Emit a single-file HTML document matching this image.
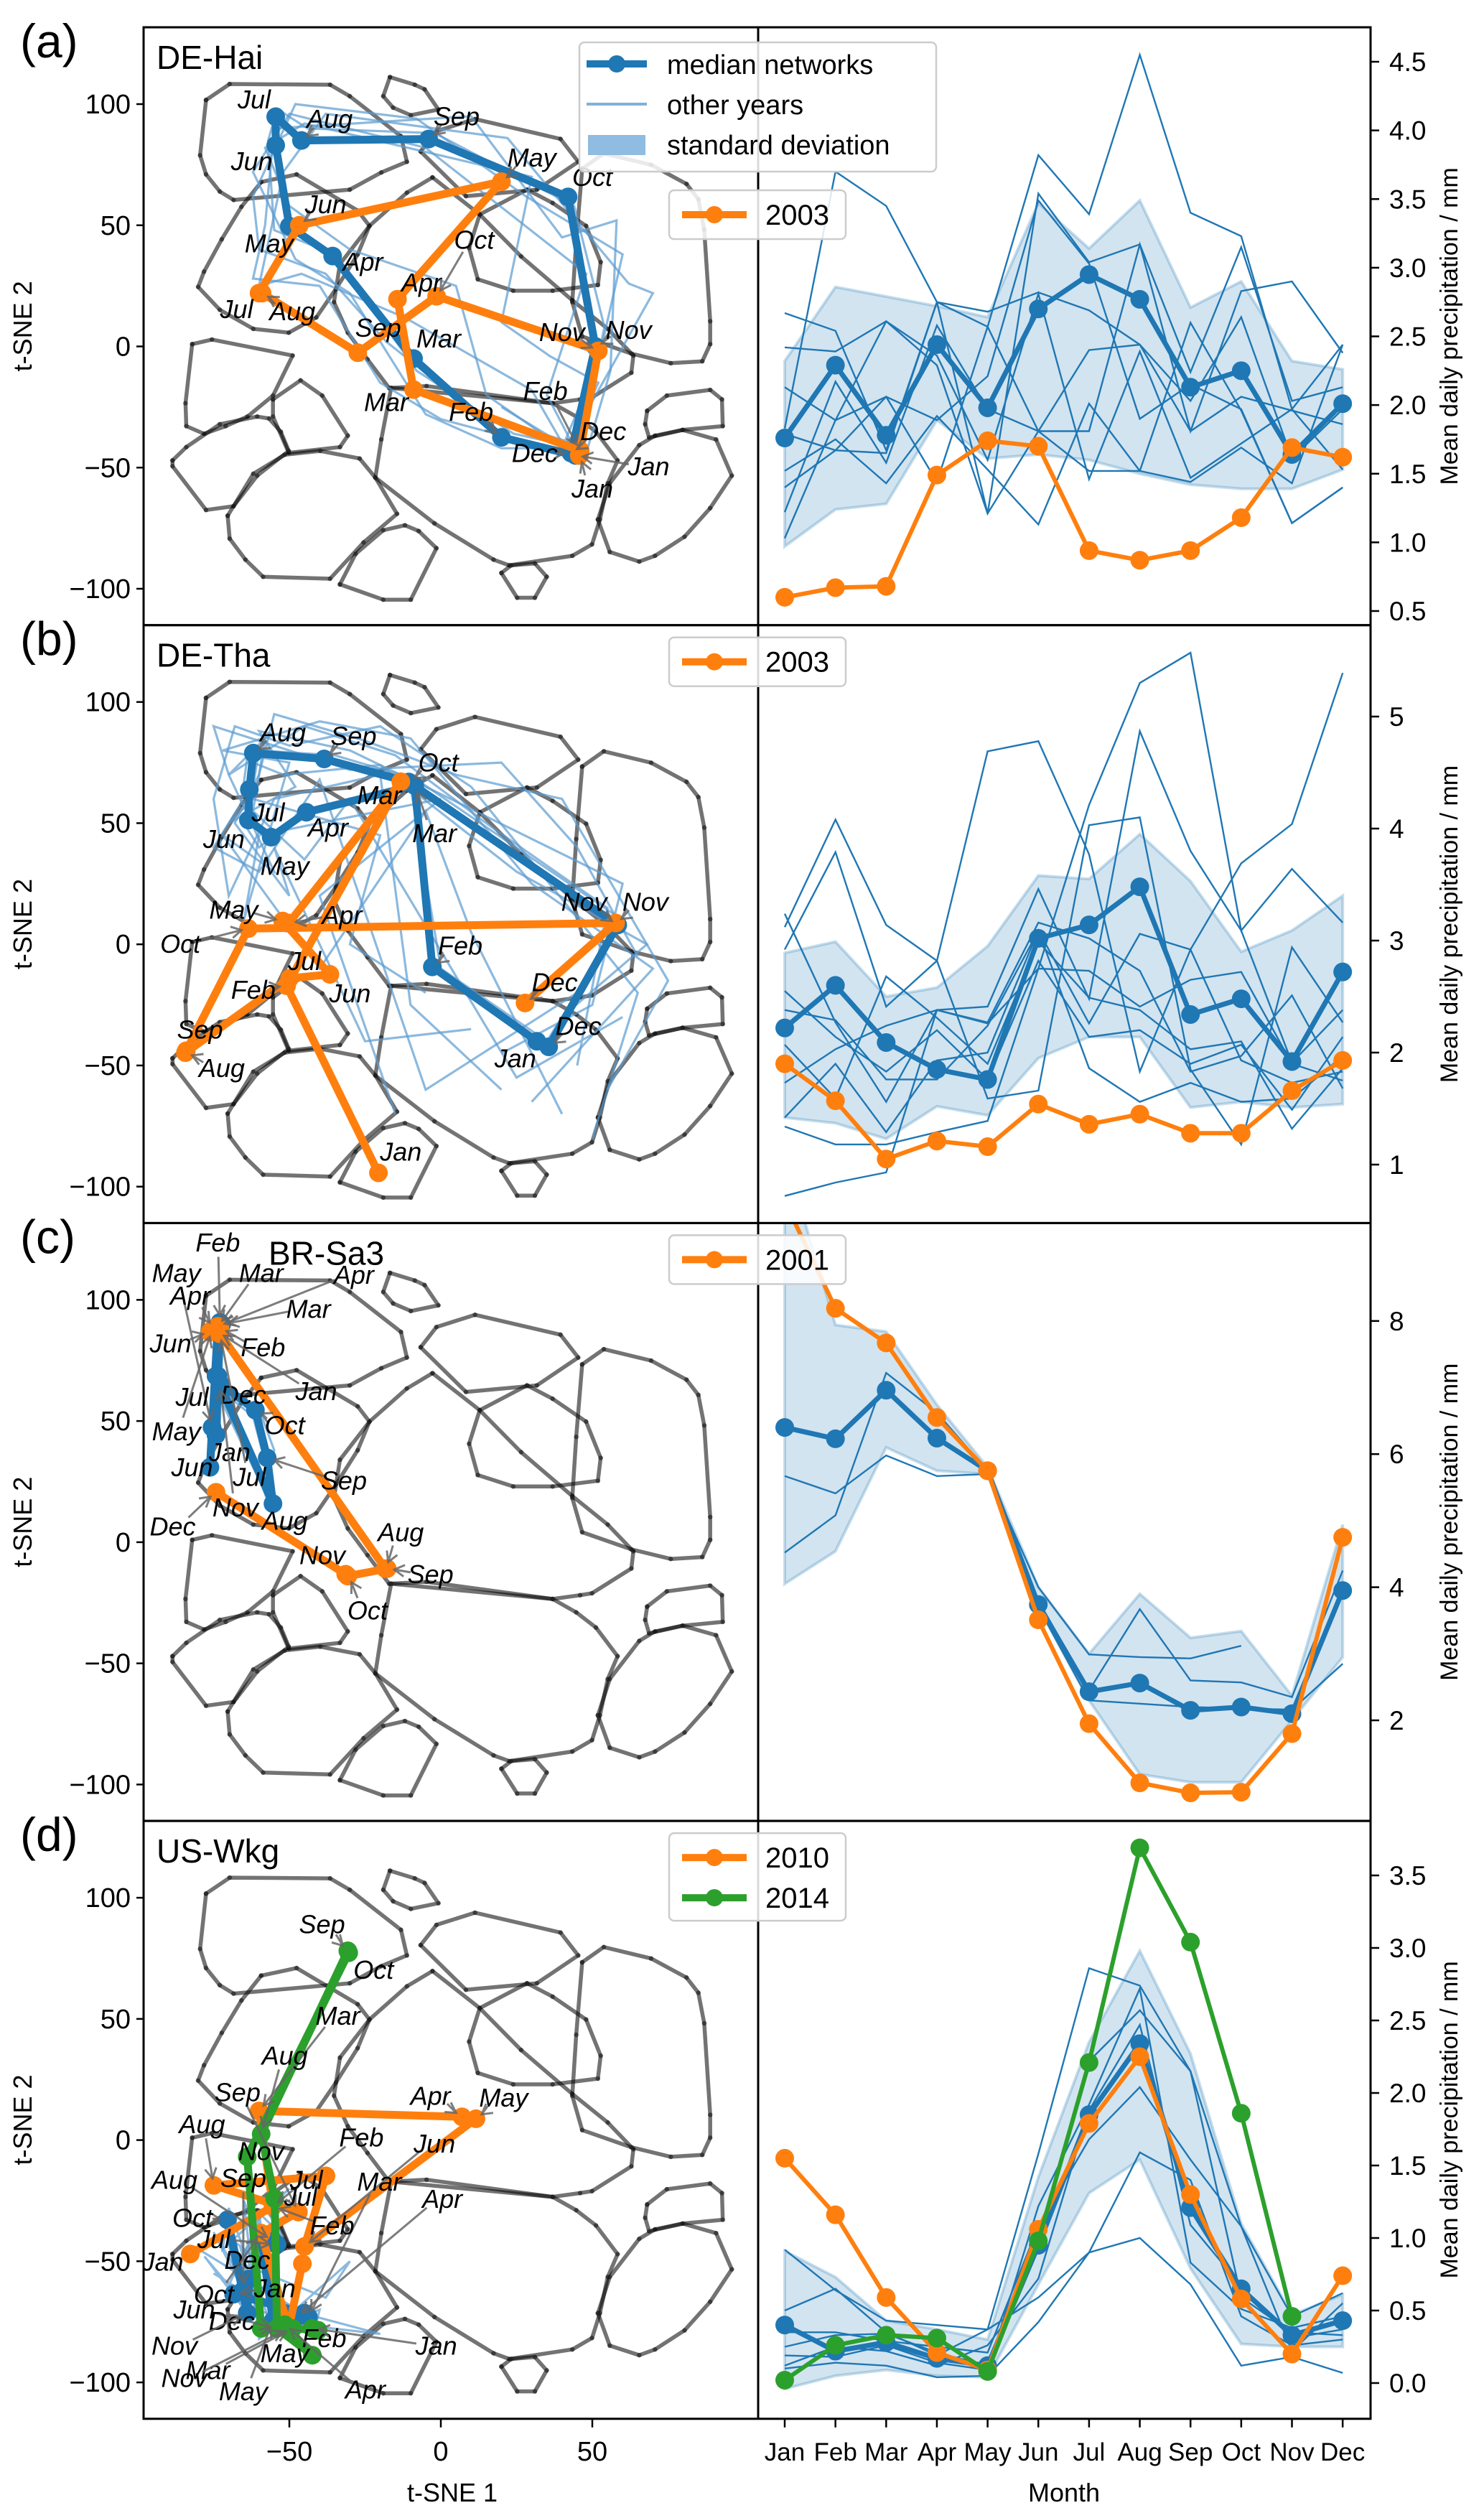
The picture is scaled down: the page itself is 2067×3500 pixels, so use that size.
<!DOCTYPE html>
<html><head><meta charset="utf-8">
<style>
html,body{margin:0;padding:0;background:#fff;}
svg{display:block;font-family:"Liberation Sans","DejaVu Sans",sans-serif;}
</style></head>
<body>
<svg id="fig" xmlns="http://www.w3.org/2000/svg" width="2067" height="3500" viewBox="0 0 2067 3500"></svg>
<script>
// ---------- DATA ----------
const months = ['Jan','Feb','Mar','Apr','May','Jun','Jul','Aug','Sep','Oct','Nov','Dec'];
const panelLetters = ['(a)','(b)','(c)','(d)'];
const siteNames = ['DE-Hai','DE-Tha','BR-Sa3','US-Wkg'];

const medA = [1.76,2.29,1.78,2.44,1.98,2.70,2.95,2.77,2.13,2.25,1.64,2.01];
const yrA2003 = [0.60,0.67,0.68,1.49,1.74,1.70,0.94,0.87,0.94,1.18,1.69,1.62];
const bandHiA = [2.32,2.86,2.79,2.72,2.64,3.47,3.14,3.49,2.71,2.90,2.32,2.26];
const bandLoA = [0.97,1.24,1.28,1.89,1.61,1.64,1.60,1.50,1.42,1.39,1.39,1.53];
const othersA = [
 [2.67,2.54,1.67,2.75,2.57,3.82,3.39,4.55,3.40,3.23,1.97,2.44],
 [2.42,2.39,2.61,2.29,1.21,3.54,3.04,3.17,2.24,3.15,2.03,2.13],
 [2.13,1.89,2.06,1.89,2.21,3.49,3.03,1.90,2.15,1.97,1.14,1.40],
 [1.79,1.67,1.65,2.75,2.68,2.82,2.69,2.44,1.81,2.06,1.96,1.86],
 [1.52,1.75,1.43,1.92,1.53,1.13,2.01,1.52,1.44,1.69,1.43,2.44],
 [1.40,1.67,2.06,1.44,2.57,1.81,1.81,3.17,1.81,2.83,2.90,2.38],
 [1.22,2.17,1.58,2.58,1.97,1.81,2.40,2.44,2.03,2.64,1.61,1.97],
 [1.03,1.89,2.61,2.36,1.60,2.81,1.46,2.39,1.47,1.72,1.97,1.53],
 [1.83,3.70,3.45,2.75,1.21,1.81,1.52,1.52,2.60,1.96,1.14,1.40]];

const medB = [2.22,2.60,2.09,1.85,1.76,3.02,3.14,3.48,2.34,2.48,1.92,2.72];
const yrB2003 = [1.90,1.57,1.05,1.21,1.16,1.54,1.36,1.45,1.28,1.28,1.66,1.93];
const bandHiB = [2.89,2.99,2.50,2.58,2.95,3.58,3.55,3.95,3.53,2.90,3.09,3.40];
const bandLoB = [1.42,1.37,1.23,1.52,1.44,1.95,2.14,2.14,1.51,1.56,1.51,1.54];
const othersB = [
 [3.12,4.08,3.14,2.82,4.69,4.78,3.77,1.83,2.92,1.93,1.73,1.83],
 [0.72,0.84,0.93,2.38,2.26,2.75,4.21,5.30,5.57,3.09,3.64,3.16],
 [3.24,2.27,1.56,2.38,2.41,3.46,2.48,4.87,3.80,3.09,1.91,2.38],
 [2.92,3.79,2.41,2.82,1.59,1.66,4.03,4.10,1.85,1.18,2.94,2.27],
 [2.38,2.29,1.76,1.76,2.24,3.09,2.26,3.06,2.92,3.69,4.04,5.39],
 [1.34,1.18,1.18,1.29,1.39,2.75,2.73,2.41,2.65,2.72,1.90,1.75],
 [1.73,2.03,2.24,2.38,2.27,3.16,3.02,2.73,1.83,1.97,2.51,1.68],
 [2.07,1.59,2.68,2.31,1.90,2.99,2.49,2.38,2.03,2.10,1.32,1.86],
 [2.55,2.14,1.83,2.20,1.76,2.82,2.14,2.20,1.90,2.07,1.49,2.14],
 [1.42,1.90,1.29,1.93,2.00,3.09,1.86,1.56,1.73,1.56,1.59,1.97]];

const medC = [6.40,6.23,6.96,6.24,5.75,3.74,2.43,2.56,2.15,2.20,2.10,3.95];
const yrC2001 = [9.8,8.19,7.67,6.55,5.75,3.51,1.95,1.06,0.91,0.92,1.80,4.75];
const bandHiC = [10.5,7.94,7.84,6.74,5.80,4.00,3.00,3.90,3.24,3.34,2.37,4.94];
const bandLoC = [4.05,4.54,6.10,5.75,5.70,3.70,2.30,1.19,1.07,1.07,2.00,2.95];
const othersC = [
 [5.67,5.41,5.98,5.67,5.70,4.00,2.99,2.95,2.93,3.12,null,null],
 [4.52,5.08,7.22,6.62,5.75,3.80,2.45,3.67,2.60,2.57,2.35,4.25],
 [null,null,null,null,5.80,3.70,2.30,2.25,2.20,2.18,2.16,2.85]];

const medD = [0.40,0.22,0.28,0.17,0.12,0.95,1.85,2.34,1.21,0.65,0.33,0.43];
const yrD2010 = [1.55,1.16,0.59,0.21,0.09,1.06,1.79,2.25,1.30,0.58,0.20,0.74];
const yrD2014 = [0.02,0.26,0.33,0.31,0.08,0.98,2.21,3.69,3.04,1.86,0.46,null];
const bandHiD = [0.91,0.73,0.43,0.37,0.30,1.42,2.35,2.98,2.27,1.10,0.47,0.61];
const bandLoD = [-0.04,0.05,0.09,0.05,0.04,0.68,1.31,1.54,0.79,0.27,0.25,0.25];
const othersD = [
 [0.92,0.64,0.43,0.40,0.37,1.58,2.86,2.74,2.15,1.08,0.46,0.62],
 [0.50,0.65,0.35,0.19,0.37,0.59,0.90,1.00,0.68,0.12,0.18,0.07],
 [0.10,0.14,0.12,0.04,0.05,0.42,0.90,1.59,1.40,0.46,0.26,0.30],
 [0.35,0.35,0.29,0.25,0.21,1.08,1.68,2.04,1.54,1.08,0.22,0.55],
 [0.19,0.18,0.26,0.14,0.09,1.22,1.92,2.72,0.83,0.51,0.38,0.46],
 [0.25,0.33,0.34,0.21,0.12,0.98,2.22,2.57,2.15,0.59,0.35,0.33],
 [0.12,0.25,0.22,0.12,0.26,0.72,1.88,2.47,1.09,0.67,0.31,0.37]];

const rightTicksA = [0.5,1.0,1.5,2.0,2.5,3.0,3.5,4.0,4.5];
const rightTicksB = [1,2,3,4,5];
const rightTicksC = [2,4,6,8];
const rightTicksD = [0.0,0.5,1.0,1.5,2.0,2.5,3.0,3.5];
const leftTicksY = [100,50,0,-50,-100];
const leftTicksX = [-50,0,50];

const tsMedA = [[44.5,-45],[20,-37.5],[-9,-5],[-35.7,37.3],[-50,49.6],[-54.5,83],[-54.5,94.8],[-46,85],[-4,85.6],[42,61.7],[51,0],[43,-44]];
const tsYrA = [[45.7,-45],[46,-43],[-9,-17.8],[-14.3,19.5],[20,68],[-46.7,50],[-60,22],[-59,22],[-27.4,-2.6],[-1.4,20.7],[52,-1.8],[45.7,-45]];
const tsMedB = [[31.7,-40],[-2.8,-9.3],[-8.6,65.5],[-44.4,54.5],[-56,44.2],[-63.5,51.3],[-63.2,63.9],[-61.9,78.9],[-38.5,76.5],[-10.6,67],[58.4,8],[35.6,-42.3]];
const tsYrB = [[-20.6,-94.3],[-50.9,-17.1],[-13.2,67.1],[-50.2,8.8],[-52.2,9.6],[-36.6,-12.4],[-49.9,-14],[-84.3,-44.7],[-84,-43.9],[-63.5,6.5],[57.7,8.8],[27.8,-24.2]];
const tsMedC = [[-74.2,44.2],[-72.9,90.7],[-72.3,89.9],[-73.6,89.1],[-75.5,47.4],[-76.2,30.9],[-74.2,68.6],[-55.4,15.9],[-57.3,34.8],[-61.2,54.5],[-72.9,65.5],[-73.6,68.6]];
const tsYrC = [[-73.6,86.7],[-72.9,88.3],[-73.6,89.1],[-74.9,88.3],[-75.5,87.5],[-76.2,86.7],[-72.9,86],[-18.3,-10.9],[-17.7,-10.9],[-30.7,-14],[-31.4,-13.2],[-74.2,20.6]];
const tsMedD = [[-68.4,-63.6],[-45,-71.4],[-43.7,-73],[-47.6,-73],[-55.4,-74.6],[-59.3,-40.8],[-54.1,-43.1],[-55.4,-41.5],[-65.2,-62],[-70.4,-32.9],[-63.9,-71.4],[-63.2,-57.3]];
const tsYrD1 = [[-82.7,-47],[-55.4,-27.4],[-60,12],[7,9.6],[11.6,8.8],[-45,-43.9],[-37.9,-14.8],[-74.9,-18.7],[-47,-29.7],[-59.3,-38.4],[-50.2,-77.7],[-45.7,-51]];
const tsYrD2 = [[-42.4,-77.7],[-40.5,-78.5],[-48.9,-77.7],[-51.5,-76.2],[-42.4,-88.8],[-54.1,-77.7],[-54.8,-24.2],[-59.3,2.5],[-30.7,78.1],[-30.4,77.3],[-63.9,-6.9],[-59.3,-77.7]];

const tsOthersA = [
 [[46,-42],[24,-36],[-8,-10],[-35,38],[-55,48],[-57,85],[-54,98],[-44,90],[-2,88],[44,58],[54,8],[46,-40]],
 [[44,-40],[12,-28],[-18,2],[-38,30],[-60,40],[-62,62],[-48,100],[-8,94],[28,62],[60,38],[52,-6],[40,-42]],
 [[42,-44],[30,-18],[-12,12],[-46,30],[-60,25],[-52,72],[-38,96],[22,86],[62,26],[70,22],[44,-36],[38,-46]],
 [[40,-42],[20,-42],[-5,-28],[-30,22],[-48,36],[-62,72],[-50,96],[-5,82],[48,30],[35,-20],[45,-44],[20,-25]],
 [[45,-45],[0,-30],[-20,-15],[-40,25],[-62,28],[-58,50],[-55,90],[10,95],[40,45],[58,52],[56,-10],[48,-44]],
 [[38,-40],[15,-20],[5,25],[-30,40],[-50,58],[-58,82],[-45,92],[30,70],[20,10],[36,-4],[52,-15],[42,-42]]];
const tsOthersB = [
 [[35,-40],[0,-10],[-10,65],[-45,55],[-60,40],[-65,50],[-62,65],[-60,80],[-35,78],[-8,68],[60,10],[35,-40]],
 [[20,-60],[-10,-25],[-20,70],[-55,60],[-70,20],[-75,60],[-68,90],[-50,82],[-20,90],[10,65],[65,-20],[50,-80]],
 [[40,-70],[10,5],[-5,55],[-40,-10],[-72,45],[-55,30],[-70,70],[-75,90],[-30,72],[20,75],[45,40],[65,-5]],
 [[-15,-70],[-40,20],[0,60],[-60,45],[-65,10],[-50,75],[-72,80],[-40,92],[-10,85],[30,25],[70,-10],[30,-65]],
 [[60,-30],[25,-55],[-30,60],[-45,35],[-62,55],[-58,85],[-70,70],[-45,90],[-15,78],[15,50],[55,15],[45,-50]],
 [[10,-35],[-25,-40],[-55,40],[-50,20],[-68,50],[-60,70],[-55,95],[-25,84],[5,70],[40,60],[75,-15],[55,-60]],
 [[45,-20],[-5,-60],[-40,68],[-60,30],[-75,40],[-66,58],[-64,76],[-52,70],[-20,74],[25,30],[68,0],[40,-30]],
 [[-5,-20],[-30,0],[-20,45],[-62,60],[-70,50],[-48,65],[-60,88],[-30,80],[0,62],[60,25],[50,-25],[20,-45]]];
const tsOthersC = [
 [[-73,45],[-72,88],[-73,86],[-74,84],[-76,45],[-77,28],[-75,65],[-57,18],[-58,33],[-62,52],[-74,64],[-75,70]],
 [[-75,40],[-73,92],[-72,90],[-74,90],[-76,50],[-76,35],[-73,72],[-58,20],[-55,38],[-60,55],[-72,62],[-73,66]]];
const tsOthersD = [
 [[-70,-60],[-45,-72],[-48,-75],[-55,-73],[-60,-70],[-62,-38],[-55,-45],[-60,-35],[-68,-55],[-72,-30],[-65,-70],[-62,-55]],
 [[-80,-45],[-50,-68],[-42,-80],[-40,-70],[-58,-78],[-66,-45],[-60,-50],[-70,-40],[-62,-65],[-75,-38],[-60,-75],[-65,-52]],
 [[-75,-55],[-45,-78],[-50,-70],[-20,-80],[-55,-75],[-60,-30],[-52,-40],[-58,-28],[-70,-60],[-78,-48],[-66,-68],[-58,-60]],
 [[-68,-50],[-38,-65],[-30,-50],[-48,-70],[-60,-82],[-65,-25],[-62,-35],[-50,-20],[-72,-45],[-70,-28],[-55,-80],[-70,-62]]];

const labelsA = [['Jul',-61.6,102,'m'],['Aug',-36.7,94,'m'],['Sep',5.2,95,'m'],['Oct',50,70,'m'],['Nov',62,6.8,'m'],['Dec',53.6,-35,'m'],['Jan',68.6,-49.5,'m'],['Mar',-0.7,3.3,'m'],['Apr',-25.7,35,'m'],['May',-56.7,42.5,'m'],['Jun',-62.4,76.4,'m'],['Dec',31,-44,'m'],['Feb',10,-27,'m'],
 ['May',30,78,'o'],['Jun',-38,58.7,'o'],['Jul',-67.4,15.4,'o'],['Aug',-49,14.5,'o'],['Sep',-20.7,7.7,'o'],['Apr',-6.4,26.4,'o'],['Oct',11,44,'o'],['Mar',-18,-23,'o'],['Feb',34.5,-18.4,'o'],['Nov',40,6,'o'],['Jan',50,-58.7,'o']];
const labelsB = [['Aug',-52.1,87.5,'m'],['Sep',-28.8,86,'m'],['Oct',-0.8,75,'m'],['Mar',-2.1,45.8,'m'],['Jul',-57,54.5,'m'],['Apr',-37.2,48.2,'m'],['Jun',-71.6,43.5,'m'],['May',-51.5,32.4,'m'],['Nov',47.3,17.5,'m'],['Feb',6.4,-0.6,'m'],['Dec',45.4,-33.7,'m'],['Jan',24.6,-47,'m'],
 ['Mar',-20.3,61.6,'o'],['Nov',67.5,17.5,'o'],['Dec',37.6,-15.6,'o'],['May',-68.4,14.3,'o'],['Oct',-86,0.2,'o'],['Apr',-32.6,12,'o'],['Jul',-45,-6.9,'o'],['Feb',-61.9,-18.7,'o'],['Jun',-30,-20.3,'o'],['Sep',-79.5,-35.2,'o'],['Aug',-72.3,-51,'o'],['Jan',-13.2,-85.6,'o']];
const labelsC = [['Feb',-73.6,123.7,'m'],['May',-87.3,111.1,'m'],['Mar',-59.3,111.1,'o'],['Apr',-28.7,110.4,'m'],['Apr',-82.7,101.7,'o'],['Mar',-43.7,96.2,'m'],['Jun',-89.2,82,'o'],['Feb',-58.7,80.4,'o'],['Jan',-41.1,62.4,'o'],['Jul',-82.1,60,'m'],['Dec',-65.2,60.8,'m'],['Oct',-51.5,48.2,'m'],['May',-87.3,45.8,'o'],['Jan',-69.7,37.2,'m'],['Jun',-82.1,30.9,'m'],['Sep',-32,25.4,'m'],['Jul',-63.2,26.9,'o'],['Nov',-67.8,14.3,'m'],['Aug',-51.5,8.8,'m'],['Dec',-88.5,6.5,'o'],['Aug',-13.2,4.1,'o'],['Nov',-39.1,-5.3,'o'],['Sep',-3.4,-13.2,'o'],['Oct',-24.2,-28.2,'o']];
const labelsD = [['Sep',-39.2,89.1,'g'],['Oct',-22.2,70.2,'g'],['Mar',-34,51.3,'o'],['Aug',-51.5,34.8,'g'],['Sep',-67.1,19.8,'o'],['Apr',-3.4,18.3,'o'],['May',20.7,17.5,'o'],['Aug',-78.8,6.5,'o'],['Feb',-26.2,1,'o'],['Jun',-2.1,-1.4,'o'],['Nov',-59.3,-4.5,'g'],['Aug',-87.9,-16.4,'m'],['Sep',-65.2,-15.6,'m'],['Jul',-44.4,-16.4,'o'],['Mar',-20.3,-17.1,'m'],['Jul',-46.3,-23.4,'g'],['Apr',0.5,-24.2,'m'],['Oct',-82,-32.1,'m'],['Feb',-35.9,-35.2,'o'],['Jul',-74.9,-40.8,'m'],['Jan',-91.8,-50.2,'o'],['Dec',-63.9,-49.4,'m'],['Oct',-74.9,-63.6,'o'],['Jan',-54.8,-61.2,'m'],['Jun',-81.4,-69.9,'g'],['Dec',-69,-74.6,'g'],['Feb',-38.5,-81.7,'g'],['Nov',-87.9,-84.8,'m'],['Jan',-1.5,-84.8,'g'],['May',-51.5,-88,'g'],['Mar',-76.9,-95,'g'],['Nov',-84.7,-98.2,'o'],['May',-65.2,-103.7,'m'],['Apr',-24.9,-102.9,'g']];

const cellGrid = [
 [[160,190],[220,148],[475,150],[525,180],[655,285],[670,352],[605,380],[525,425],[230,452],[195,430],[160,385],[145,335],[160,190]],
 [[627,130],[690,150],[715,162],[750,215],[680,230],[635,210],[610,180],[627,130]],
 [[705,325],[745,272],[843,240],[1060,292],[1105,352],[1000,425],[820,442],[705,325]],
 [[735,393],[670,433],[575,520],[500,620],[485,720],[520,800],[570,870],[625,945],[720,940],[1040,985],[1110,975],[1140,970],[1240,905],[1245,860],[1180,790],[1090,715],[960,600],[855,490],[735,393]],
 [[975,425],[855,490],[828,578],[850,660],[940,690],[1040,690],[1155,675],[1162,615],[1125,520],[1040,460],[975,425]],
 [[1115,370],[1170,330],[1290,360],[1380,410],[1410,450],[1425,530],[1440,770],[1440,830],[1420,875],[1340,880],[1240,855],[1115,810],[1090,720],[1100,560],[1115,370]],
 [[300,405],[390,385],[545,480],[575,520],[545,595],[490,685],[440,760],[370,800],[280,790],[195,740],[140,680],[155,640],[200,555],[250,470],[300,405]],
 [[125,830],[175,818],[380,860],[330,965],[265,1020],[210,1045],[155,1065],[110,1045],[108,985],[125,830]],
 [[330,975],[400,925],[455,965],[520,1070],[500,1100],[370,1115],[330,1020],[330,975]],
 [[75,1135],[110,1100],[195,1040],[290,1020],[320,1025],[350,1060],[370,1110],[290,1175],[230,1255],[160,1265],[75,1150],[75,1135]],
 [[215,1280],[280,1170],[360,1120],[450,1110],[550,1130],[590,1180],[645,1275],[560,1350],[475,1445],[305,1440],[260,1395],[220,1340],[215,1280]],
 [[630,945],[605,1080],[590,1180],[740,1300],[890,1395],[930,1410],[1090,1385],[1140,1355],[1160,1290],[1180,1195],[1205,1135],[1150,1060],[1100,1020],[1040,985],[630,945]],
 [[500,1460],[540,1380],[610,1318],[665,1305],[700,1320],[745,1365],[680,1500],[610,1500],[500,1460]],
 [[910,1430],[935,1410],[995,1405],[1025,1440],[995,1495],[950,1495],[910,1430]],
 [[1155,1290],[1185,1195],[1260,1095],[1300,1070],[1370,1055],[1455,1080],[1495,1175],[1440,1260],[1375,1335],[1300,1385],[1260,1400],[1185,1375],[1155,1290]],
 [[1280,1005],[1330,965],[1440,950],[1470,975],[1472,1045],[1370,1055],[1285,1075],[1275,1040],[1280,1005]]];

// ---------- DRAWING ----------
const NS = 'http://www.w3.org/2000/svg';
const svg = document.getElementById('fig');
const BLUE='#1f77b4', ORANGE='#ff7f0e', GREEN='#2ca02c';
function mk(tag, attrs, parent){
  const e = document.createElementNS(NS, tag);
  for (const k in attrs) e.setAttribute(k, attrs[k]);
  (parent||svg).appendChild(e);
  return e;
}
const PH = 832.7, PT0 = 38;
const LX0 = 200, LX1 = 1056, RX1 = 1909;
function xL(v){ return 614 + v*4.22; }
function yLf(p){ const top = PT0 + p*PH; return v => top + 107 + (100 - v)*3.375; }
function xM(i){ return 1093 + i*70.65; }
const yRfuncs = [
  v => 851 - (v-0.5)*191.25,
  v => 1622 - (v-1)*156,
  v => 2396 - (v-2)*92.7,
  v => 3319 - v*202
];
function gridX(g){ return -98.3 + g*0.13; }
function gridY(g){ return 131.6 - g*0.1574; }

const defs = mk('defs', {});
for (let p=0;p<4;p++){
  const top = PT0 + p*PH;
  const cl = mk('clipPath', {id:'clipL'+p}, defs);
  mk('rect', {x:LX0, y:top, width:LX1-LX0, height:PH}, cl);
  const cr = mk('clipPath', {id:'clipR'+p}, defs);
  mk('rect', {x:LX1, y:top, width:RX1-LX1, height:PH}, cr);
}

const rightData = [
  {med:medA, yrs:[[yrA2003,ORANGE]], hi:bandHiA, lo:bandLoA, others:othersA, ticks:rightTicksA, fmt:1},
  {med:medB, yrs:[[yrB2003,ORANGE]], hi:bandHiB, lo:bandLoB, others:othersB, ticks:rightTicksB, fmt:0},
  {med:medC, yrs:[[yrC2001,ORANGE]], hi:bandHiC, lo:bandLoC, others:othersC, ticks:rightTicksC, fmt:0},
  {med:medD, yrs:[[yrD2010,ORANGE],[yrD2014,GREEN]], hi:bandHiD, lo:bandLoD, others:othersD, ticks:rightTicksD, fmt:1}
];
const leftData = [
  {med:tsMedA, yrs:[[tsYrA,ORANGE,'o']], others:tsOthersA, labels:labelsA},
  {med:tsMedB, yrs:[[tsYrB,ORANGE,'o']], others:tsOthersB, labels:labelsB},
  {med:tsMedC, yrs:[[tsYrC,ORANGE,'o']], others:tsOthersC, labels:labelsC},
  {med:tsMedD, yrs:[[tsYrD1,ORANGE,'o'],[tsYrD2,GREEN,'g']], others:tsOthersD, labels:labelsD}
];
const legendYears = [['2003'],['2003'],['2001'],['2010','2014']];

function polyPts(arr, fx, fy){
  return arr.map(p => fx(p[0]).toFixed(1)+','+fy(p[1]).toFixed(1)).join(' ');
}
function seriesPath(vals, fy){
  let d=''; let pen=false;
  vals.forEach((v,i)=>{
    if (v===null){ pen=false; return; }
    d += (pen?'L':'M') + xM(i).toFixed(1)+' '+fy(v).toFixed(1)+' ';
    pen=true;
  });
  return d;
}

for (let p=0;p<4;p++){
  const top = PT0 + p*PH, bot = top + PH;
  const yL = yLf(p), yR = yRfuncs[p];
  const L = leftData[p], R = rightData[p];

  const gL = mk('g', {'clip-path':'url(#clipL'+p+')'});
  
  
  cellGrid.forEach((cell, ci) => {
    const pts = cell.map(q => [gridX(q[0]), gridY(q[1])]);
    const pl = mk('polyline', {points:polyPts(pts, xL, yL), fill:'none', stroke:'#000', 'stroke-opacity':0.55, 'stroke-width':5.5, 'stroke-linejoin':'round'}, gL);
    
    
    pts.forEach(q => {
      const c = mk('circle', {cx:xL(q[0]), cy:yL(q[1]), r:3.2, fill:'#222', 'fill-opacity':0.7}, gL);
      
      
    });
  });
  L.others.forEach(tr => {
    const pl = mk('polyline', {points:polyPts(tr, xL, yL), fill:'none', stroke:'#5b9bd0', 'stroke-opacity':0.7, 'stroke-width':3.2}, gL);
    
    
  });
  const medLine = mk('polyline', {points:polyPts(L.med, xL, yL), fill:'none', stroke:BLUE, 'stroke-width':11, 'stroke-linejoin':'round'}, gL);
  
  
  L.med.forEach(q => {
    const c = mk('circle', {cx:xL(q[0]), cy:yL(q[1]), r:13, fill:BLUE}, gL);
    
    
  });
  L.yrs.forEach(y => {
    const pl = mk('polyline', {points:polyPts(y[0], xL, yL), fill:'none', stroke:y[1], 'stroke-width':11, 'stroke-linejoin':'round'}, gL);
    
    
    y[0].forEach(q => {
      const c = mk('circle', {cx:xL(q[0]), cy:yL(q[1]), r:13, fill:y[1]}, gL);
      
      
    });
  });
  const seriesMap = {m:L.med, o:L.yrs[0][0], g:(L.yrs[1]?L.yrs[1][0]:L.med)};
  L.labels.forEach(lb => {
    const mi = months.indexOf(lb[0]);
    const tgt = seriesMap[lb[3]][mi];
    const lx = xL(lb[1]), ly = yL(lb[2]);
    const tx = xL(tgt[0]), ty = yL(tgt[1]);
    const dx = tx-lx, dy = ty-ly, dist = Math.hypot(dx,dy);
    if (dist > 45){
      const ux = dx/dist, uy = dy/dist;
      const sx = lx + ux*28, sy = ly + uy*20;
      const ex = tx - ux*10, ey = ty - uy*10;
      const ar = mk('path', {d:`M${sx.toFixed(1)} ${sy.toFixed(1)} L${ex.toFixed(1)} ${ey.toFixed(1)} M${(ex-ux*14-uy*8).toFixed(1)} ${(ey-uy*14+ux*8).toFixed(1)} L${ex.toFixed(1)} ${ey.toFixed(1)} L${(ex-ux*14+uy*8).toFixed(1)} ${(ey-uy*14-ux*8).toFixed(1)}`, fill:'none', stroke:'#666', 'stroke-opacity':0.85, 'stroke-width':3}, gL);
      
      
    }
    const t = mk('text', {x:lx, y:ly, 'font-size':36, 'font-style':'italic', 'text-anchor':'middle', 'dominant-baseline':'central', fill:'#000'}, gL);
    t.textContent = lb[0];
    
    
  });
  const title = mk('text', {x: p===2 ? 374 : 218, y: top+58, 'font-size':46, fill:'#000'});
  title.textContent = siteNames[p];
  
  

  const gR = mk('g', {'clip-path':'url(#clipR'+p+')'});
  
  
  let bd = '';
  R.hi.forEach((v,i)=>{ bd += (i?'L':'M')+xM(i).toFixed(1)+' '+yR(v).toFixed(1)+' '; });
  for (let i=11;i>=0;i--) bd += 'L'+xM(i).toFixed(1)+' '+yR(R.lo[i]).toFixed(1)+' ';
  const band = mk('path', {d:bd+'Z', fill:BLUE, 'fill-opacity':0.2, stroke:BLUE, 'stroke-opacity':0.25, 'stroke-width':4}, gR);
  
  
  R.others.forEach(o => {
    const pl = mk('path', {d:seriesPath(o, yR), fill:'none', stroke:BLUE, 'stroke-width':2.4}, gR);
    
    
  });
  const mline = mk('path', {d:seriesPath(R.med, yR), fill:'none', stroke:BLUE, 'stroke-width':7}, gR);
  
  
  R.med.forEach((v,i) => {
    const c = mk('circle', {cx:xM(i), cy:yR(v), r:13, fill:BLUE}, gR);
    
    
  });
  R.yrs.forEach(y => {
    const pl = mk('path', {d:seriesPath(y[0], yR), fill:'none', stroke:y[1], 'stroke-width':6}, gR);
    
    
    y[0].forEach((v,i) => {
      if (v===null) return;
      const c = mk('circle', {cx:xM(i), cy:yR(v), r:13, fill:y[1]}, gR);
      
      
    });
  });

  const fr = mk('rect', {x:LX0, y:top, width:RX1-LX0, height:PH, fill:'none', stroke:'#000', 'stroke-width':3});
  
  
  const dv = mk('line', {x1:LX1, x2:LX1, y1:top, y2:bot, stroke:'#000', 'stroke-width':3});
  
  

  leftTicksY.forEach(v => {
    const y = yL(v);
    const tk = mk('line', {x1:LX0-10, x2:LX0, y1:y, y2:y, stroke:'#000', 'stroke-width':2.5});
    
    
    const tl = mk('text', {x:LX0-18, y:y+13, 'font-size':38, 'text-anchor':'end', fill:'#000'});
    tl.textContent = (v<0?'\u2212'+(-v):String(v));
    
    
  });
  const yt = mk('text', {x:0, y:0, 'font-size':36, 'text-anchor':'middle', transform:`translate(44,${top+PH/2}) rotate(-90)`, fill:'#000'});
  yt.textContent = 't-SNE 2';
  
  

  R.ticks.forEach(v => {
    const y = yR(v);
    const tk = mk('line', {x1:RX1, x2:RX1+12, y1:y, y2:y, stroke:'#000', 'stroke-width':2.5});
    
    
    const tl = mk('text', {x:RX1+26, y:y+13, 'font-size':37, fill:'#000'});
    tl.textContent = R.fmt ? v.toFixed(1) : String(v);
    
    
  });
  const rt = mk('text', {x:0, y:0, 'font-size':34, 'text-anchor':'middle', transform:`translate(2030,${top+PH/2}) rotate(-90)`, fill:'#000'});
  rt.textContent = 'Mean daily precipitation / mm';
  
  

  const pl = mk('text', {x:28, y:top+42, 'font-size':66, fill:'#000'});
  pl.textContent = panelLetters[p];
  
  

  const yrsL = legendYears[p];
  const lgH = yrsL.length===1 ? 68 : 122;
  const lgTop = (p===0 ? top+227 : top+17);
  const lg = mk('g', {});
  
  
  const lb = mk('rect', {x:932, y:lgTop, width:246, height:lgH, rx:7, fill:'#fff', 'fill-opacity':0.85, stroke:'#ccc', 'stroke-width':2.5}, lg);
  
  
  yrsL.forEach((yr,k) => {
    const cy = lgTop + 34 + k*56;
    const col = k===0 ? ORANGE : GREEN;
    const ln = mk('line', {x1:950, x2:1040, y1:cy, y2:cy, stroke:col, 'stroke-width':10}, lg);
    
    
    const c = mk('circle', {cx:995, cy:cy, r:12, fill:col}, lg);
    
    
    const tx = mk('text', {x:1066, y:cy+14, 'font-size':40, fill:'#000'}, lg);
    tx.textContent = yr;
    
    
  });
}

const ml = mk('g', {});


const mlb = mk('rect', {x:807, y:59, width:497, height:180, rx:7, fill:'#fff', 'fill-opacity':0.85, stroke:'#ccc', 'stroke-width':2.5}, ml);


const e1 = mk('line', {x1:817, x2:901, y1:89, y2:89, stroke:BLUE, 'stroke-width':10}, ml);


const e1c = mk('circle', {cx:859, cy:89, r:12, fill:BLUE}, ml);


const e2 = mk('line', {x1:817, x2:901, y1:145, y2:145, stroke:'#7fb1d9', 'stroke-width':4}, ml);


const e3 = mk('rect', {x:819, y:188, width:80, height:28, fill:'#8fbce0'}, ml);


[['median networks',103],['other years',159],['standard deviation',215]].forEach(r => {
  const t = mk('text', {x:929, y:r[1], 'font-size':38, fill:'#000'}, ml);
  t.textContent = r[0];
  
  
});

const BOT = PT0 + 4*PH;
leftTicksX.forEach(v => {
  const x = xL(v);
  const tk = mk('line', {x1:x, x2:x, y1:BOT, y2:BOT+12, stroke:'#000', 'stroke-width':2.5});
  
  
  const tl = mk('text', {x:x, y:BOT+58, 'font-size':38, 'text-anchor':'middle', fill:'#000'});
  tl.textContent = (v<0?'\u2212'+(-v):String(v));
  
  
});
const xt = mk('text', {x:630, y:BOT+115, 'font-size':36, 'text-anchor':'middle', fill:'#000'});
xt.textContent = 't-SNE 1';


months.forEach((m,i) => {
  const x = xM(i);
  const tk = mk('line', {x1:x, x2:x, y1:BOT, y2:BOT+12, stroke:'#000', 'stroke-width':2.5});
  
  
  const tl = mk('text', {x:x, y:BOT+58, 'font-size':35, 'text-anchor':'middle', fill:'#000'});
  tl.textContent = m;
  
  
});
const mt = mk('text', {x:1482, y:BOT+115, 'font-size':36, 'text-anchor':'middle', fill:'#000'});
mt.textContent = 'Month';


</script>
</body></html>
